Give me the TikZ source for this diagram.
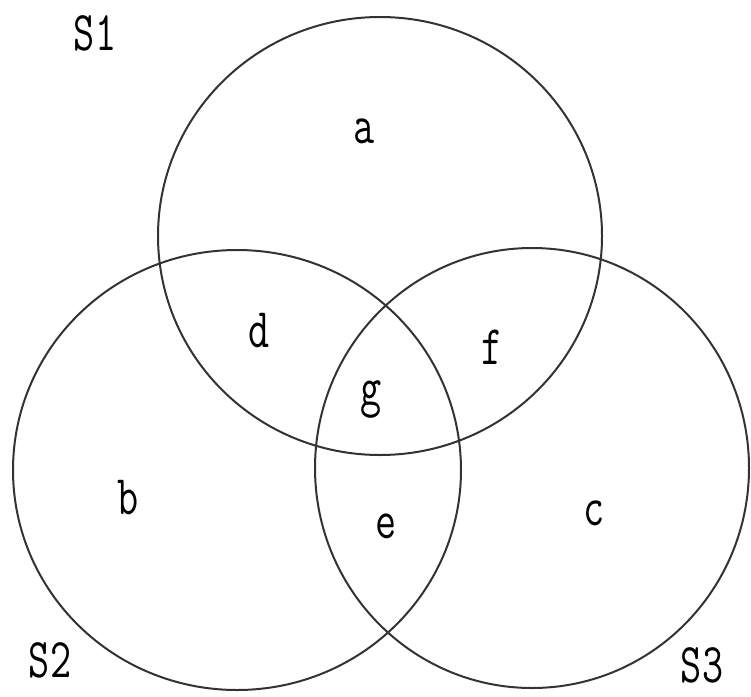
\documentclass[tikz,border=0pt]{standalone}
\begin{document}
\begin{tikzpicture}[x=1pt,y=-1pt,
  setline/.style={draw=black!80,line width=2pt},
  lbl/.style={font=\ttfamily\fontsize{50}{50}\selectfont,inner sep=0pt,xscale=0.82,yscale=1.12}]
\useasboundingbox (0,0) rectangle (751,696);
\draw[setline] (380,236) ellipse [x radius=222,y radius=219];
\draw[setline] (237,470) ellipse [x radius=224,y radius=220];
\draw[setline] (532,468) ellipse [x radius=217,y radius=220];
\node[lbl] (s1) at (95,33) {S1};
\node[lbl] (s2) at (50,660) {S2};
\node[lbl] (s3) at (702,665) {S3};
\node[lbl] (a) at (364,131) {a};
\node[lbl] (d) at (259,331) {d};
\node[lbl] (f) at (492,347) {f};
\node[lbl] (g) at (371,400) {g};
\node[lbl] (b) at (128,498) {b};
\node[lbl] (e) at (386,526) {e};
\node[lbl] (c) at (594,513) {c};
\end{tikzpicture}
\end{document}
